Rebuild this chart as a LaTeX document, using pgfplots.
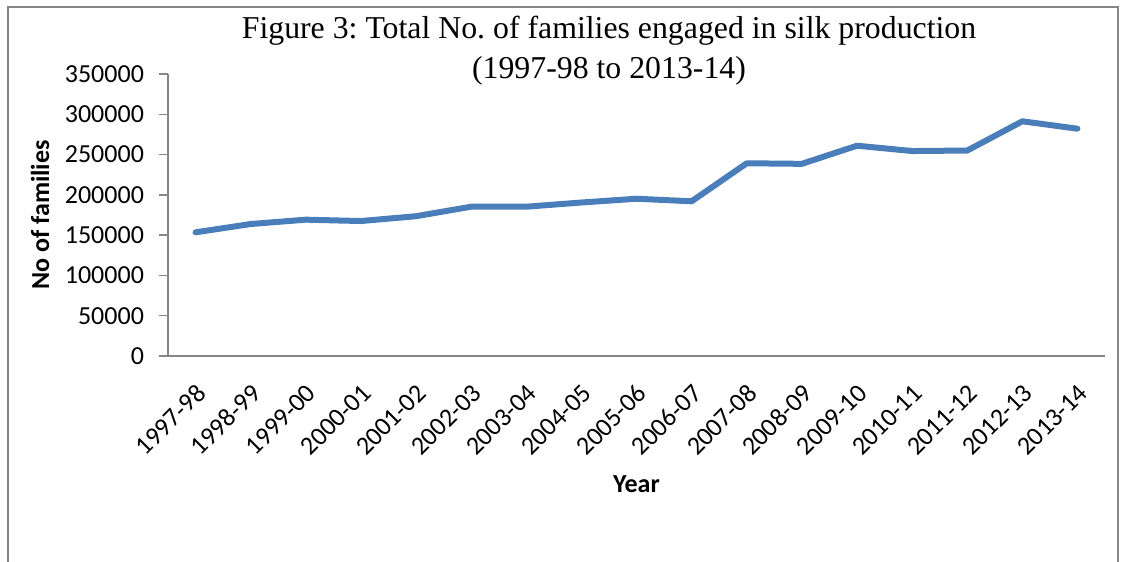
\documentclass[border=0pt]{standalone}
\usepackage{fontspec}
\setmainfont{Carlito}
\newfontfamily\titlefont{Liberation Serif}
\usepackage{pgfplots}
\pgfplotsset{compat=1.18}
\definecolor{lineblue}{RGB}{74,126,187}
\definecolor{axgray}{RGB}{134,134,134}
\begin{document}
\frenchspacing
\begin{tikzpicture}
\useasboundingbox (-84pt,-103pt) rectangle (478.5pt,178pt);
\draw[axgray, line width=0.75pt] (-80pt,-120pt) -- (-80pt,174.5pt) -- (475pt,174.5pt) -- (475pt,-120pt);
\node[font=\titlefont\fontsize{15.9}{20}\selectfont, align=center] at (220.5pt,152.5pt) {Figure 3: Total No. of families engaged in silk production\\(1997-98 to 2013-14)};
\begin{axis}[at={(0,0)}, anchor=south west, scale only axis, width=468.5pt, height=141pt,
  xmin=-0.5, xmax=16.5, ymin=0, ymax=350000,
  ytick={0,50000,100000,150000,200000,250000,300000,350000},
  yticklabels={0,50000,100000,150000,200000,250000,300000,350000},
  scaled y ticks=false,
  axis x line*=bottom, axis y line*=left,
  axis line style={axgray, line width=0.75pt},
  tick align=outside,
  xtick={0,1,2,3,4,5,6,7,8,9,10,11,12,13,14,15,16},
  xticklabels={1997-98,1998-99,1999-00,2000-01,2001-02,2002-03,2003-04,2004-05,2005-06,2006-07,2007-08,2008-09,2009-10,2010-11,2011-12,2012-13,2013-14},
  major x tick style={draw=none},
  extra x ticks={-0.5,0.5,1.5,2.5,3.5,4.5,5.5,6.5,7.5,8.5,9.5,10.5,11.5,12.5,13.5,14.5,15.5,16.5},
  extra x tick labels={},
  extra x tick style={major tick length=4pt, tick style={axgray, line width=0.75pt}},
  major tick length=4.5pt,
  major y tick style={axgray, line width=0.75pt},
  yticklabel style={font=\fontsize{13}{15}\selectfont, xshift=-4pt},
  xticklabel style={font=\fontsize{13}{15}\selectfont, rotate=45, anchor=east, xshift=-3pt, yshift=-10.5pt},
  xlabel={Year}, ylabel={No of families},
  xlabel style={font=\bfseries\fontsize{13}{15}\selectfont, at={(axis description cs:0.5,-0.454)}, anchor=center},
  ylabel style={font=\bfseries\fontsize{13}{15}\selectfont, at={(axis description cs:-0.1366,0.5)}, anchor=center},
  clip=false,
]
\addplot[lineblue, line width=3pt, line cap=round, line join=round, mark=none] coordinates {
(0,153500) (1,163800) (2,169200) (3,167500) (4,173500) (5,185300) (6,185300) (7,190500) (8,195200) (9,192000) (10,239200) (11,238500) (12,261000) (13,254400) (14,255000) (15,291300) (16,282100)};
\end{axis}
\end{tikzpicture}
\end{document}
